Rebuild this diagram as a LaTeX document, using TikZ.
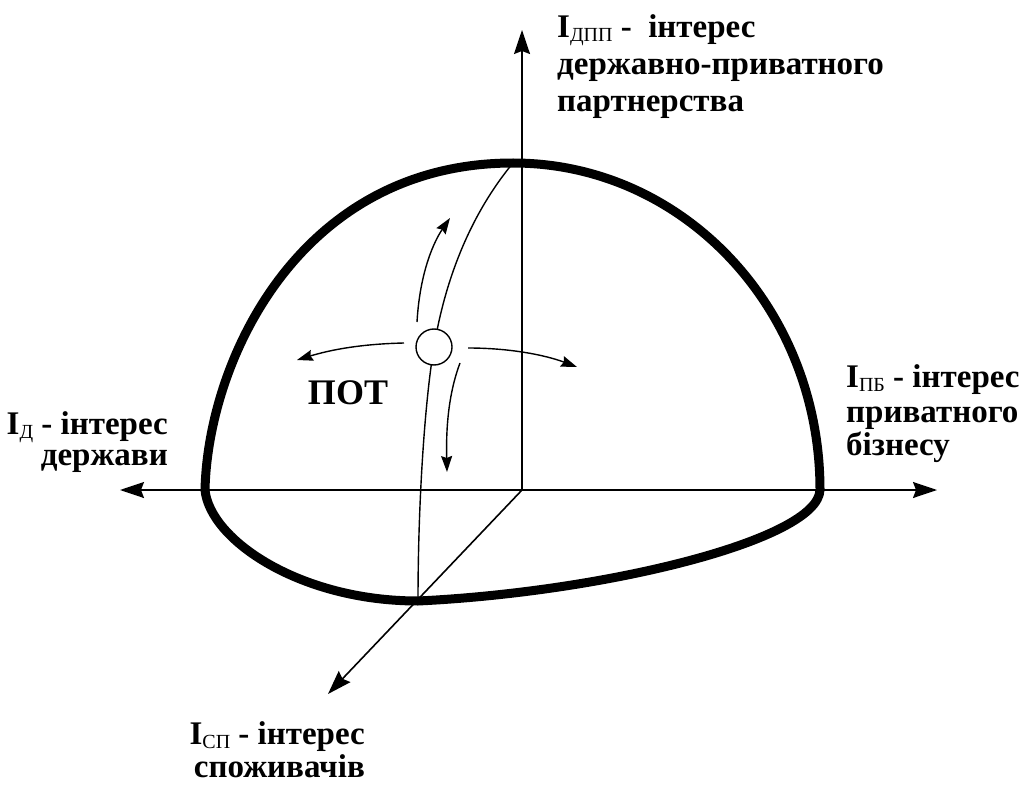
\documentclass[tikz,border=0pt]{standalone}
\usepackage{fontspec}
\setmainfont{Liberation Serif}
\usetikzlibrary{arrows.meta}
\newcommand\subtxt[1]{\raisebox{-4pt}{\fontsize{20}{20}\selectfont\mdseries #1}}
\begin{document}
\begin{tikzpicture}[x=1pt,y=-1pt,
  lab/.style={font=\fontsize{33}{36}\selectfont\bfseries, inner sep=0pt},
  axis/.style={line width=1.6pt, -{Stealth[length=24pt,width=16pt,inset=3pt]}},
  dome/.style={line width=9pt, line join=round},
  thinline/.style={line width=1.4pt},
  small/.style={line width=1.4pt, -{Stealth[length=16pt,width=11pt,inset=2pt]}}]
\useasboundingbox (0,0) rectangle (1030,786);
% axes
\coordinate (O) at (522,490);
\coordinate (ytop) at (522,30);
\coordinate (xl) at (120,490);
\coordinate (xr) at (937,490);
\coordinate (zd) at (328,694);
\draw[axis] (O) -- (ytop);
\draw[axis] (O) -- (xl);
\draw[axis] (O) -- (xr);
\draw[axis] (O) -- (zd);
% dome
\coordinate (domeL) at (205,490);
\coordinate (domeT) at (513,163);
\coordinate (domeR) at (820,490);
\coordinate (domeB) at (418,601);
\draw[dome] (domeL) .. controls (208,360) and (300,163) .. (domeT)
  .. controls (683,163) and (820,308) .. (domeR)
  .. controls (818,540) and (605,592) .. (domeB)
  .. controls (300,601) and (210,540) .. (domeL) -- cycle;
% meridian
\coordinate (Cc) at (434,347);
\draw[thinline] (domeT) .. controls (470,215) and (445,280) .. (Cc)
  .. controls (425,400) and (418,500) .. (domeB);
\node[circle, draw, fill=white, minimum size=36pt, inner sep=0pt, line width=1.4pt] (C) at (Cc) {};
% small arrows
\coordinate (us) at (417,322); \coordinate (ue) at (450,218);
\coordinate (ds) at (460,363); \coordinate (de) at (447,472);
\coordinate (ls) at (404,343); \coordinate (le) at (297,360);
\coordinate (rs) at (468,348); \coordinate (re) at (577,367);
\draw[small] (us) .. controls (420,270) and (435,240) .. (ue);
\draw[small] (ds) .. controls (448,395) and (446,430) .. (de);
\draw[small] (ls) .. controls (360,344) and (330,350) .. (le);
\draw[small] (rs) .. controls (510,348) and (545,355) .. (re);
\node[font=\fontsize{36}{36}\selectfont\bfseries] (pot) at (348,393) {ПОТ};
% labels
\node[lab, anchor=base west] (t1) at (557,38) {I\subtxt{ДПП} -\ \ інтерес};
\node[lab, anchor=base west] (t2) at (557,75) {державно-приватного};
\node[lab, anchor=base west] (t3) at (557,112) {партнерства};
\node[lab, anchor=base east] (l1) at (168,434) {I\subtxt{Д} - інтерес};
\node[lab, anchor=base east] (l2) at (168,465) {держави};
\node[lab, anchor=base west] (r1) at (846,387) {I\subtxt{ПБ} -\ інтерес};
\node[lab, anchor=base west] (r2) at (846,422) {приватного};
\node[lab, anchor=base west] (r3) at (846,455) {бізнесу};
\node[lab, anchor=base east] (b1) at (365,744) {I\subtxt{СП} - інтерес};
\node[lab, anchor=base east] (b2) at (365,777) {споживачів};
\end{tikzpicture}
\end{document}
